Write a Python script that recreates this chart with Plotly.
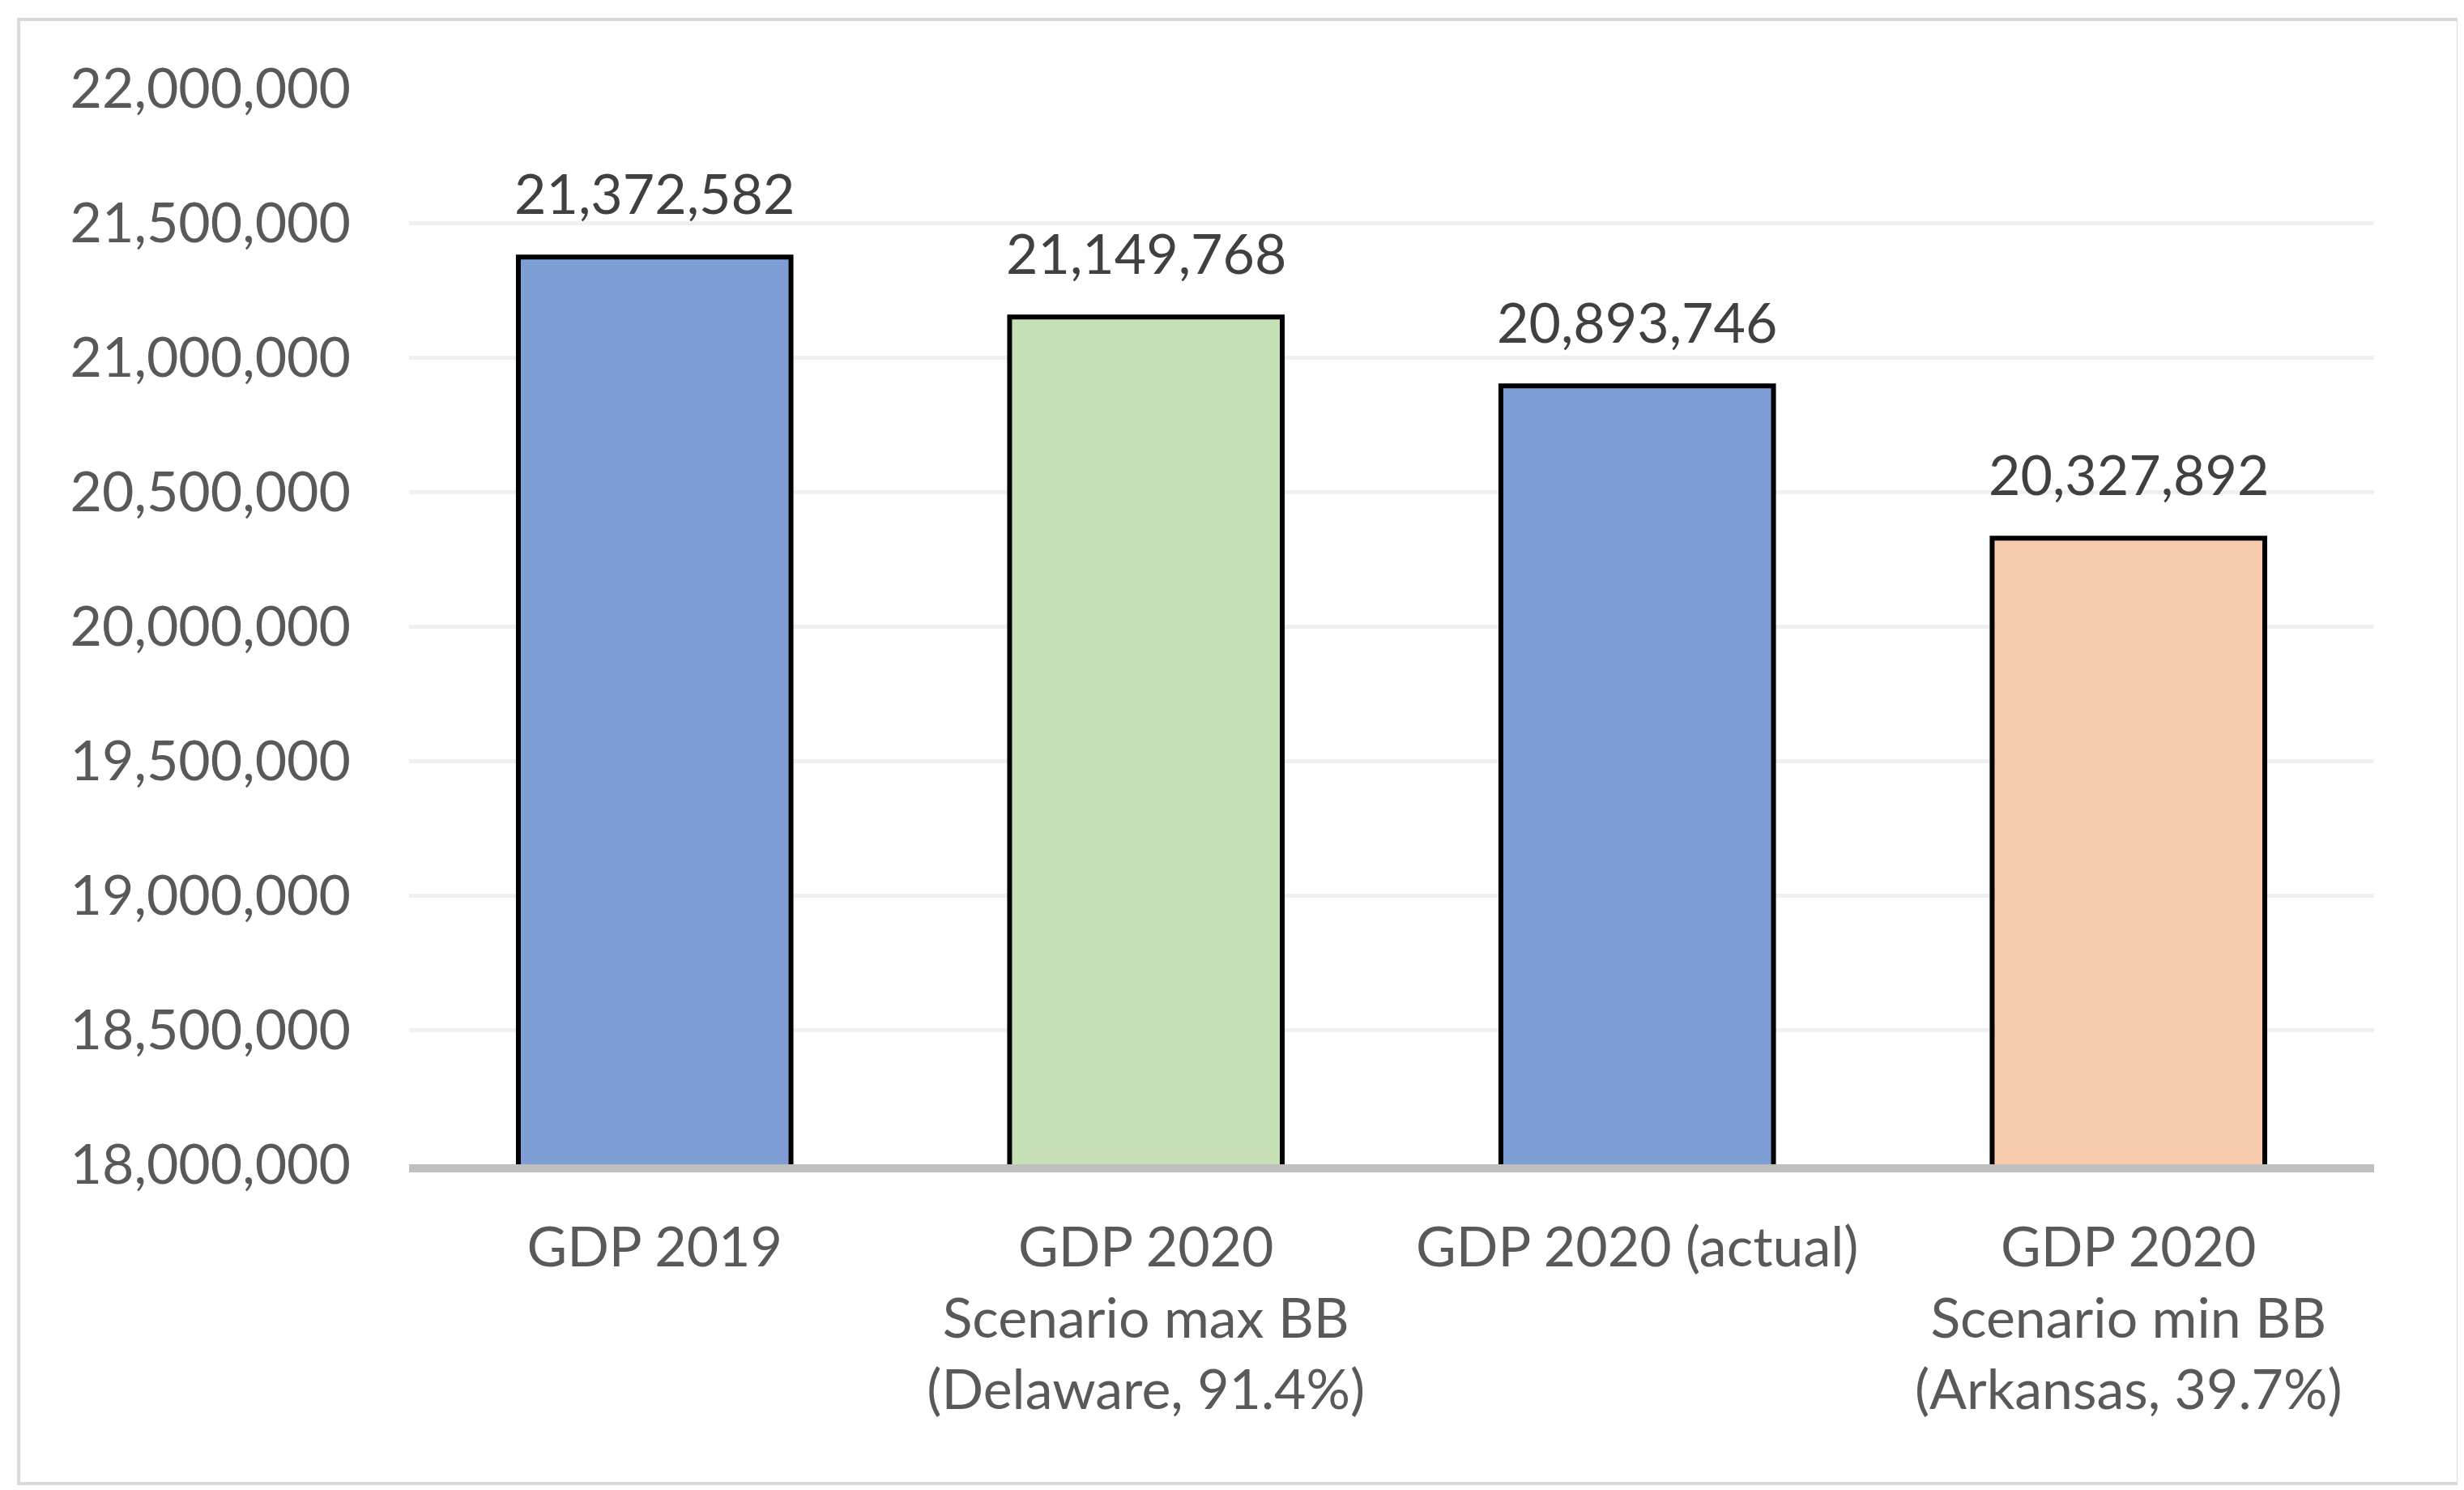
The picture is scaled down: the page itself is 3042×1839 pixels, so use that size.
import plotly.graph_objects as go

categories = [
    "GDP 2019",
    "GDP 2020<br>Scenario max BB<br>(Delaware, 91.4%)",
    "GDP 2020 (actual)",
    "GDP 2020<br>Scenario min BB<br>(Arkansas, 39.7%)",
]
values = [21372582, 21149768, 20893746, 20327892]
bar_colors = ["#7F9ED5", "#C5E0B4", "#7F9ED5", "#F8CBAD"]
y_ticks = [18000000, 18500000, 19000000, 19500000, 20000000, 20500000,
           21000000, 21500000, 22000000]
y_tick_labels = [f"{v:,}" for v in y_ticks]

W, H = 3042, 1839
L, R, T, B = 497, 119, 101, 410
FONT = "Lato, Open Sans, sans-serif"
FS = 68

fig = go.Figure()
fig.add_trace(go.Bar(
    x=categories,
    y=values,
    marker=dict(color=bar_colors, line=dict(color="#000000", width=6)),
    width=0.555,
    hoverinfo="skip",
))

for c, v in zip(categories, values):
    fig.add_annotation(
        x=c, y=v, xref="x", yref="y",
        text=f"{v:,}", showarrow=False,
        yanchor="middle", yshift=80,
        font=dict(family=FONT, size=FS, color="#404040"),
    )

pw = W - L - R
ph = H - T - B
fig.add_shape(
    type="rect", xref="paper", yref="paper",
    x0=(15 - L) / pw, x1=(3027 - L) / pw,
    y0=(H - B - 1823) / ph, y1=(H - B - 16) / ph,
    line=dict(color="#D9D9D9", width=4), fillcolor="rgba(0,0,0,0)",
    layer="below",
)

fig.update_layout(
    width=W, height=H,
    margin=dict(l=L, r=R, t=T, b=B),
    paper_bgcolor="white", plot_bgcolor="white",
    showlegend=False,
    font=dict(family=FONT, size=FS, color="#595959"),
    xaxis=dict(
        showline=True, linecolor="#BFBFBF", linewidth=10,
        showgrid=False, ticks="", ticklabelstandoff=34,
        tickfont=dict(family=FONT, size=FS, color="#595959"),
        fixedrange=True,
    ),
    yaxis=dict(
        range=[18000000, 22000000],
        tickvals=y_ticks, ticktext=y_tick_labels,
        showgrid=True, gridcolor="#F0F0F0", gridwidth=5,
        zeroline=False, showline=False, ticks="",
        ticklabelstandoff=71,
        tickfont=dict(family=FONT, size=FS, color="#595959"),
        fixedrange=True,
    ),
)

fig.write_html("out.html")
